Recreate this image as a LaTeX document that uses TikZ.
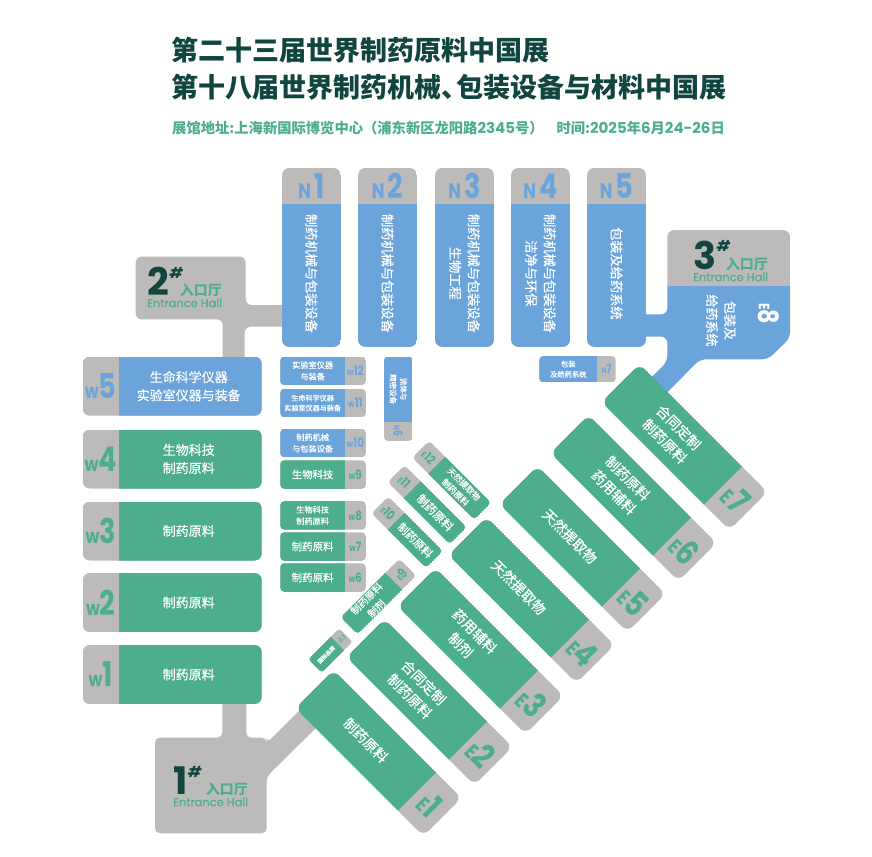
\documentclass[tikz,border=0pt]{standalone}
\usepackage{fontspec}
\usepackage{xcolor}
\usetikzlibrary{positioning}
\newfontfamily\cjk{Noto Sans CJK SC}
\newfontfamily\cjkm[FakeBold=0.35]{Noto Sans CJK SC}
\newfontfamily\lat{Poppins}
\newfontfamily\latm[FakeBold=0.4]{Poppins}
\newfontfamily\latn[FakeStretch=0.8]{Poppins}
\definecolor{hallgreen}{HTML}{4DAE8C}
\definecolor{hallblue}{HTML}{6AA4DA}
\definecolor{hallgrey}{HTML}{BDBBB9}
\definecolor{titledark}{HTML}{114540}
\newcommand{\fz}[1]{\fontsize{#1}{\the\dimexpr#1pt*14/10\relax}\selectfont}
\newcommand{\hallmark}[4]{{\latn\bfseries\fz{#3}#1\fz{#4}#2}}
\newcommand{\dg}[1]{{\lat\bfseries\fontsize{15}{16}\selectfont #1}}
% name, x, y, angle, length, width, grey end, corner radius, colour
\newcommand{\hall}[9]{
  \begin{scope}[shift={(#2,#3)},rotate=#4]
    \begin{scope}
      \clip[rounded corners=#8pt] (-#5/2,-#6/2) rectangle (#5/2,#6/2);
      \fill[hallgrey] (-#5/2,-#6/2) rectangle (#5/2,#6/2);
      \fill[#9] (-#5/2,-#6/2) rectangle (#5/2-#7,#6/2);
    \end{scope}
    \coordinate (#1c) at (-#7/2,0);
    \coordinate (#1g) at (#5/2-#7/2,0);
  \end{scope}}
\begin{document}
\begin{tikzpicture}[
  x=1pt, y=-1pt,
  htxt/.style={font=\cjkm\fz{#1}, text=white, align=center, inner sep=0pt},
  hlab/.style={text=#1, inner sep=0pt},
  hallnum/.style={font=\lat\bfseries\fontsize{38}{40}\selectfont, text=titledark, inner sep=0pt},
  hallhash/.style={font=\lat\bfseries\itshape\fontsize{15}{16}\selectfont, text=titledark, inner sep=0pt},
  hallcn/.style={font=\cjk\bfseries\fontsize{14}{15}\selectfont, text=hallgreen, inner sep=0pt},
  hallen/.style={font=\latm\fontsize{11.4}{13}\selectfont, text=hallgreen, inner sep=0pt}
]
\useasboundingbox (0,0) rectangle (872,856);
% heading
\node[anchor=west, font=\cjk\bfseries\fontsize{27}{30}\selectfont, text=titledark, inner sep=0pt] (titlea) at (171,50) {第二十三届世界制药原料中国展};
\node[anchor=west, font=\cjk\bfseries\fontsize{27}{30}\selectfont, text=titledark, inner sep=0pt] (titleb) at (171,87) {第十八届世界制药机械、\hspace{-12pt}包装设备与材料中国展};
\node[anchor=west, font=\cjk\bfseries\fontsize{14.3}{15}\selectfont, text=hallgreen, inner sep=0pt] (place) at (172,128.5) {展馆地址:上海新国际博览中心（浦东新区龙阳路\dg{2345}号）};
\node[anchor=east, font=\cjk\bfseries\fontsize{14.3}{15}\selectfont, text=hallgreen, inner sep=0pt] (date) at (725,128.5) {时间:\dg{2025}年\dg{6}月\dg{24-26}日};
% entrance halls and their corridors
\fill[hallgrey, rounded corners=6pt] (135.7,256.7) -- (245.7,256.7) -- (245.7,305) -- (290,305) -- (290,326.7) -- (244.7,326.7) -- (244.7,365) -- (222.7,365) -- (222.7,319.3) -- (135.7,319.3) -- cycle;
\fill[hallgrey, rounded corners=5pt] (155,737.7) -- (222.3,737.7) -- (222.3,695) -- (246.3,695) -- (246.3,737.7) -- (266.7,737.7) -- (266.7,743) -- (312,698) -- (330,714) -- (266.7,776.7) -- (266.7,833.3) -- (155,833.3) -- cycle;
\fill[hallblue, rounded corners=6pt] (667.3,280) -- (790,280) -- (790,338) -- (768,359.3) -- (700,359.3) -- (640,420) -- (625,403) -- (667.3,361.7) -- (667.3,336.7) -- (640,336.7) -- (640,314.3) -- (667.3,314.3) -- cycle;
\begin{scope}
  \clip[rounded corners=7pt] (667.3,230) rectangle (790,300);
  \fill[hallgrey] (667.3,230) rectangle (790,285.7);
\end{scope}
% north halls
\foreach \id/\hx/\num/\txt in {n1/311.4/1/制药机械与包装设备, n2/387.5/2/制药机械与包装设备, n3/464.5/3/{制药机械与包装设备\\生物工程}, n4/540.5/4/{制药机械与包装设备\\洁净与环保}, n5/616.5/5/包装及给药系统}{
  \hall{\id}{\hx}{257.4}{90}{178.7}{58.7}{36}{7}{hallblue}
  \node[htxt=13.2, rotate=-90, xshift=-2pt] (\id t) at (\id c) {\txt};
  \node[hlab=hallblue] (\id m) at (\id g) {\hallmark{N\kern3pt}{\num}{21}{34}};
}
% west halls
\foreach \id/\hy/\num/\col/\txt in {w5/386.2/5/hallblue/{生命科学仪器\\实验室仪器与装备}, w4/459/4/hallgreen/{生物科技\\制药原料}, w3/531/3/hallgreen/制药原料, w2/602.5/2/hallgreen/制药原料, w1/674.5/1/hallgreen/制药原料}{
  \hall{\id}{172.2}{\hy}{180}{179}{59}{36}{7}{\col}
  \node[htxt=13, xshift=-1.5pt] (\id t) at (\id c) {\txt};
  \node[hlab=\col] (\id m) at (\id g) {\hallmark{w}{\num}{20}{34}};
}
\foreach \id/\hy/\num/\col/\sz/\txt in {w12/370.8/12/hallblue/8.2/{实验室仪器\\与装备}, w11/403/11/hallblue/7.1/{生命科学仪器\\实验室仪器与装备}, w10/443/10/hallblue/8.2/{制药机械\\与包装设备}, w9/474.5/9/hallgreen/10.3/生物科技, w8/515.4/8/hallgreen/8.2/{生物科技\\制药原料}, w7/546.5/7/hallgreen/10.5/制药原料, w6/577.5/6/hallgreen/10.5/制药原料}{
  \hall{\id}{323}{\hy}{0}{85.5}{28.5}{20.7}{4}{\col}
  \node[htxt=\sz] (\id t) at (\id c) {\txt};
  \node[hlab=\col] (\id m) at (\id g) {\hallmark{w}{\num}{9.5}{13}};
}
\hall{n6}{398.3}{398.8}{-90}{84.3}{28.7}{19.3}{4}{hallblue}
\node[htxt=7.5, rotate=-90] (n6t) at (n6c) {流体与\\精密设备};
\node[hlab=hallblue, rotate=-90] (n6m) at (n6g) {\hallmark{N}{6}{8}{12}};
\hall{n7}{577.5}{369.2}{0}{76.4}{26.3}{18.4}{4}{hallblue}
\node[htxt=7.3] (n7t) at (n7c) {包装\\及给药系统};
\node[hlab=hallblue] (n7m) at (n7g) {\hallmark{N}{7}{8}{12}};
% east halls, one step up and to the right each
\foreach \id/\k/\num/\txt in {e1/0/1/制药原料, e2/1/2/{合同定制\\制药原料}, e3/2/3/{药用辅料\\制剂}, e4/3/4/天然提取物, e5/4/5/天然提取物, e6/5/6/{制药原料\\药用辅料}, e7/6/7/{合同定制\\制药原料}}{
  \pgfmathsetmacro{\hx}{378.5+51*\k}
  \pgfmathsetmacro{\hy}{753-51*\k}
  \hall{\id}{\hx}{\hy}{-45}{181}{54}{36}{8}{hallgreen}
  \node[htxt=14, rotate=-45] (\id t) at (\id c) {\txt};
  \node[hlab=hallgreen, rotate=-45] (\id m) at (\id g) {\hallmark{E}{\num}{21}{34}};
}
\foreach \id/\hx/\hy/\len/\grey/\num/\sz/\txt in {e12/451.7/480.2/87.7/22.6/12/8.5/{天然提取物\\制药原料}, e11/427.2/504.7/87.7/22.6/11/11.5/制药原料, e10/407.2/532.2/77/23/10/11/制药原料}{
  \hall{\id}{\hx}{\hy}{135}{\len}{24}{\grey}{4}{hallgreen}
  \node[htxt=\sz, rotate=-45] (\id t) at (\id c) {\txt};
  \node[hlab=hallgreen, rotate=-45] (\id m) at (\id g) {\hallmark{E}{\num}{8}{13}};
}
\hall{e9}{378.5}{596.5}{45}{83}{24}{20}{4}{hallgreen}
\node[htxt=10, rotate=45] (e9t) at (e9c) {制药原料\\制剂};
\node[hlab=hallgreen, rotate=45] (e9m) at (e9g) {\hallmark{E}{9}{8}{14}};
\hall{e0}{330.5}{650.5}{45}{43.8}{19}{12}{3}{hallgreen}
\node[htxt=5.5, rotate=45] (e0t) at (e0c) {国际品牌};
\node[hlab=hallgreen, rotate=45] (e0m) at (e0g) {\hallmark{E}{1.1}{4.5}{7}};
% the hall E8
\node[htxt=13, rotate=-90] (e8t) at (721,320.5) {包装及\\给药系统};
\node[hlab=white, rotate=-90] (e8m) at (769,314) {\hallmark{E}{8}{15}{28}};
% entrance hall labels
\node[hallen, anchor=west] (h2en) at (147,303) {Entrance Hall};
\node[hallnum, above=3pt of h2en.north west, anchor=south west] (h2num) {2};
\node[hallhash, right=0pt of h2num.north east, anchor=north west] (h2hash) {\#};
\node[hallcn, above=1pt of h2en.north east, anchor=south east] (h2cn) {入口厅};
\node[hallen, anchor=west] (h1en) at (173,802) {Entrance Hall};
\node[hallnum, above=3pt of h1en.north west, anchor=south west] (h1num) {1};
\node[hallhash, right=0pt of h1num.north east, anchor=north west] (h1hash) {\#};
\node[hallcn, above=1pt of h1en.north east, anchor=south east] (h1cn) {入口厅};
\node[hallen, anchor=west] (h3en) at (693,277) {Entrance Hall};
\node[hallnum, above=3pt of h3en.north west, anchor=south west] (h3num) {3};
\node[hallhash, right=0pt of h3num.north east, anchor=north west] (h3hash) {\#};
\node[hallcn, above=1pt of h3en.north east, anchor=south east] (h3cn) {入口厅};
\end{tikzpicture}
\end{document}
